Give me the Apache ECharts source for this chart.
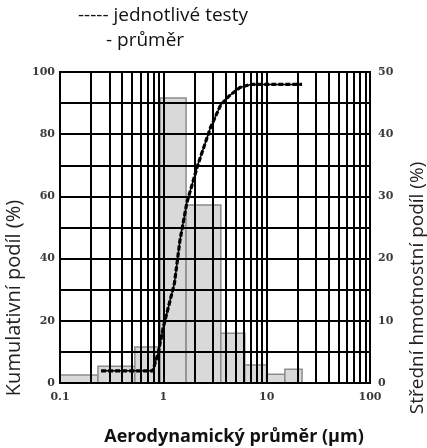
<!DOCTYPE html>
<html>
<head>
<meta charset="utf-8">
<script src="https://cdn.jsdelivr.net/npm/echarts@6/dist/echarts.min.js"></script>
<style>html,body{margin:0;padding:0;background:#fff}#c{width:427px;height:448px}</style>
</head>
<body>
<div id="c"></div>
<script>
// Histogram (right axis, %): bin edges (µm) and heights
var binEdges = [0.1, 0.233, 0.53, 0.93, 1.66, 3.6, 6.15, 10, 15, 22];
var binValues = [1.3, 2.7, 5.8, 45.8, 28.6, 8.0, 2.9, 1.4, 2.2];
// Cumulative curve (left axis, %)
var cumX = [0.25, 0.79, 0.89, 1.0, 1.28, 1.45, 1.69, 2.15, 2.85, 3.6, 4.4, 5.5, 7, 10, 22];
var cumTests = [3.9, 3.9, 9.6, 18, 32, 46, 58, 70, 82, 89.5, 92.5, 95, 96, 96, 96];
var cumMean = [3.9, 3.9, 9.6, 18, 32, 46, 58, 70, 82, 89.5, 92.5, 95, 96, 96, 96];
// Grid/tick values
var minorX = [];
[0.1, 1, 10].forEach(function (d) { for (var k = 2; k <= 9; k++) minorX.push(+(d * k).toPrecision(3)); });
var xTickLabels = {'0.1': '0.1', '1': '1', '10': '10', '100': '100'};

var bars = binValues.map(function (v, i) { return [binEdges[i], binEdges[i + 1], v]; });
var lineTests = cumX.map(function (x, i) { return [x, cumTests[i]]; });
var lineMean = cumX.map(function (x, i) { return [x, cumMean[i]]; });

var tickFont = {fontFamily: 'DejaVu Serif', fontWeight: 'bold', fontSize: 11, color: '#3a3a3a'};

var chart = echarts.init(document.getElementById('c'), null, {renderer: 'canvas'});
chart.setOption({
  animation: false,
  grid: {left: 60, right: 57, top: 72, bottom: 65, show: true, borderColor: '#000', borderWidth: 2, backgroundColor: 'transparent'},
  xAxis: {
    type: 'log', logBase: 10, min: 0.1, max: 100, z: 2,
    axisLine: {show: true, lineStyle: {color: '#000', width: 2}},
    axisTick: {show: false},
    splitLine: {show: true, lineStyle: {color: '#000', width: 2}},
    axisLabel: Object.assign({margin: 9, formatter: function (v) { var s = String(+(+v).toPrecision(3)); return xTickLabels[s] || s; }}, tickFont)
  },
  yAxis: [{
    type: 'value', min: 0, max: 100, interval: 10, z: 2,
    axisLine: {show: true, lineStyle: {color: '#000', width: 2}},
    axisTick: {show: false},
    splitLine: {show: true, lineStyle: {color: '#000', width: 2}},
    axisLabel: Object.assign({margin: 5, formatter: function (v) { return v % 20 === 0 ? String(v) : ''; }}, tickFont)
  }, {
    type: 'value', min: 0, max: 50, interval: 10, position: 'right', z: 2,
    axisLine: {show: true, lineStyle: {color: '#000', width: 2}},
    axisTick: {show: false},
    splitLine: {show: false},
    axisLabel: Object.assign({margin: 8}, tickFont)
  }],
  series: [{
    type: 'custom', yAxisIndex: 1, z: 1, silent: true,
    renderItem: function (params, api) {
      var p0 = api.coord([api.value(0), api.value(2)]);
      var p1 = api.coord([api.value(1), 0]);
      return {type: 'rect', shape: {x: p0[0], y: p0[1], width: p1[0] - p0[0], height: p1[1] - p0[1]},
        style: {fill: '#d9d9d9', stroke: '#8c8c8c', lineWidth: 1.5}};
    },
    encode: {x: [0, 1], y: 2},
    data: bars
  }, {
    type: 'line', z: 3, silent: true, data: [], symbol: 'none',
    markLine: {silent: true, symbol: 'none', label: {show: false},
      lineStyle: {color: '#000', width: 2, type: 'solid'},
      data: minorX.map(function (x) { return {xAxis: x}; })}
  }, {
    name: 'průměr', type: 'line', z: 5, data: lineMean, symbol: 'none', silent: true,
    lineStyle: {color: '#000', width: 1.5}
  }, {
    name: 'jednotlivé testy', type: 'line', z: 6, data: lineTests, symbol: 'none', silent: true,
    lineStyle: {color: '#000', width: 3.2, type: [5, 2]}
  }],
  graphic: [
    {type: 'text', left: 78, top: 6, style: {text: '----- jednotlivé testy', fontFamily: 'Open Sans', fontSize: 19, fill: '#111'}},
    {type: 'text', left: 106, top: 31, style: {text: '- průměr', fontFamily: 'Open Sans', fontSize: 19, fill: '#111'}},
    {type: 'text', x: 14, y: 298, rotation: Math.PI / 2, style: {text: 'Kumulativní podíl (%)', fontFamily: 'Open Sans', fontSize: 20, fill: '#222', align: 'center', verticalAlign: 'middle'}},
    {type: 'text', x: 418, y: 288, rotation: Math.PI / 2, style: {text: 'Střední hmotnostní podíl (%)', fontFamily: 'Open Sans', fontSize: 19, fill: '#222', align: 'center', verticalAlign: 'middle'}},
    {type: 'text', x: 234, y: 437, style: {text: 'Aerodynamický průměr (µm)', fontFamily: 'Open Sans', fontWeight: 'bold', fontSize: 18, fill: '#111', align: 'center', verticalAlign: 'middle'}}
  ]
});
</script>
</body>
</html>
